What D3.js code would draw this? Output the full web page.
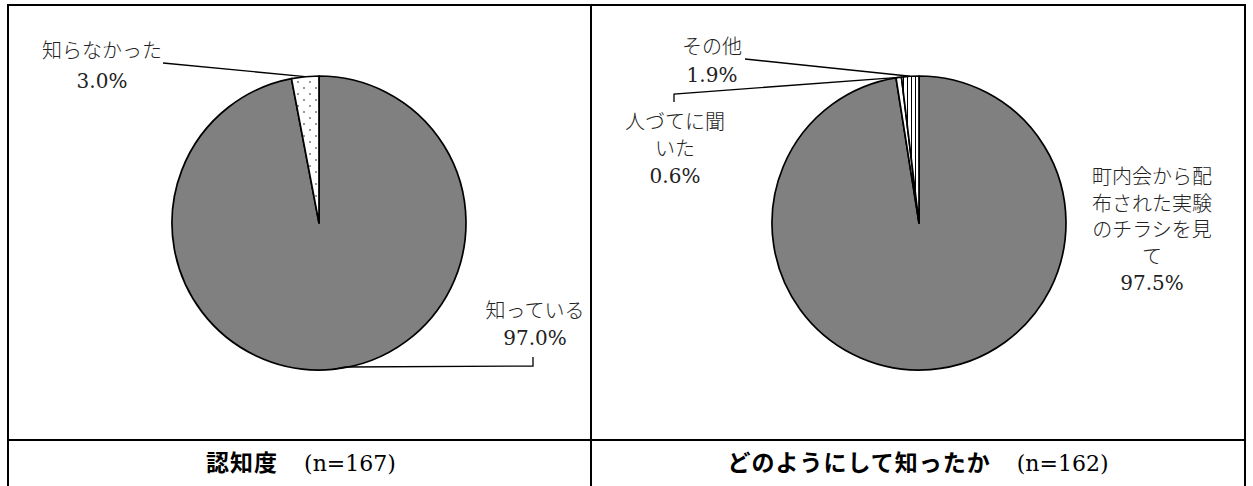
<!DOCTYPE html>
<html><head><meta charset="utf-8">
<script src="https://cdn.jsdelivr.net/npm/d3@7"></script>
<style>body{margin:0;background:#fff}svg{display:block}</style>
</head><body>
<script>
// ---- data ----
const leftLabels = ["知っている", "知らなかった"];
const leftValues = [97.0, 3.0];
const leftTitle = "認知度";
const leftN = "(n=167)";

const rightLabels = ["町内会から配布された実験のチラシを見て", "人づてに聞いた", "その他"];
const rightValues = [97.5, 0.6, 1.9];
const rightTitle = "どのようにして知ったか";
const rightN = "(n=162)";

// ---- layout ----
const W = 1253, H = 486;
const svg = d3.select("body").append("svg").attr("width", W).attr("height", H);
const defs = svg.append("defs");

const dots = defs.append("pattern").attr("id","dots").attr("patternUnits","userSpaceOnUse")
  .attr("width",12).attr("height",12);
dots.append("rect").attr("width",12).attr("height",12).attr("fill","#fff");
dots.append("circle").attr("cx",3).attr("cy",3).attr("r",1).attr("fill","#777");
dots.append("circle").attr("cx",9).attr("cy",9).attr("r",1).attr("fill","#777");

const stripes = defs.append("pattern").attr("id","stripes").attr("patternUnits","userSpaceOnUse")
  .attr("width",4).attr("height",4);
stripes.append("rect").attr("width",4).attr("height",4).attr("fill","#fff");
stripes.append("rect").attr("x",0).attr("width",1).attr("height",4).attr("fill","#000");

// frame
const frame = svg.append("g").attr("stroke","#000").attr("stroke-width",2).attr("fill","none");
frame.append("line").attr("x1",8).attr("x2",1245).attr("y1",5).attr("y2",5);
frame.append("line").attr("x1",8).attr("x2",1245).attr("y1",440).attr("y2",440);
[8,591,1245].forEach(x => frame.append("line").attr("x1",x).attr("x2",x).attr("y1",4).attr("y2",H));

const FONT = "'DejaVu Serif','Noto Sans CJK JP',serif";
const R = 147;
const pie = d3.pie().sort(null).startAngle(0).endAngle(2*Math.PI);
const arc = d3.arc().innerRadius(0).outerRadius(R);

function drawPie(cx, cy, values, fills, labelSpecs) {
  const g = svg.append("g").attr("transform", `translate(${cx},${cy})`);
  const arcs = pie(values);
  g.selectAll("path").data(arcs).join("path")
    .attr("d", arc).attr("fill", (d,i) => fills[i])
    .attr("stroke","#000").attr("stroke-width",1.7).attr("stroke-linejoin","round");
  arcs.forEach((a,i) => {
    const s = labelSpecs[i];
    const mid = (a.startAngle + a.endAngle)/2;
    const px = R*Math.sin(mid), py = -R*Math.cos(mid);
    const pts = s.leader.map(p => [p[0]-cx, p[1]-cy]).concat([[px,py]]);
    g.append("path").attr("d", d3.line()(pts)).attr("fill","none")
      .attr("stroke","#000").attr("stroke-width",1.3);
    const t = svg.append("text").attr("text-anchor","middle")
      .attr("font-family",FONT).attr("font-weight",300).attr("font-size",20).attr("fill","#222");
    s.lines.forEach((ln,k) => {
      t.append("tspan").attr("x", s.x).attr("y", s.y + k*s.dy).text(ln);
    });
  });
}

const pct = v => v.toFixed(1) + "%";

drawPie(319, 223, leftValues, ["#808080","url(#dots)"], [
  {x:535, y:318, dy:27, lines:[leftLabels[0], pct(leftValues[0])], leader:[[533,357],[533,366],[345,367]]},
  {x:102, y:58, dy:30, lines:[leftLabels[1], pct(leftValues[1])], leader:[[163,63]]}
]);

drawPie(919, 223, rightValues, ["#808080","#fff","url(#stripes)"], [
  {x:1152, y:184, dy:26.5, lines:["町内会から配","布された実験","のチラシを見","て", pct(rightValues[0])], leader:[]},
  {x:675, y:129, dy:27, lines:["人づてに聞","いた", pct(rightValues[1])], leader:[[674,102],[674,94]]},
  {x:712, y:54, dy:28, lines:[rightLabels[2], pct(rightValues[2])], leader:[[745,59]]}
]);

// captions
function caption(cx, title, n) {
  const t = svg.append("text").attr("x",cx).attr("y",471).attr("text-anchor","middle").attr("fill","#000");
  t.append("tspan").attr("font-family","'Noto Sans CJK JP',sans-serif").attr("font-weight","bold")
    .attr("font-size",23).attr("letter-spacing",1).text(title);
  t.append("tspan").attr("font-family","'DejaVu Serif',serif").attr("font-size",22).attr("dx",26).text(n);
}
caption(301, leftTitle, leftN);
caption(918, rightTitle, rightN);
</script>
</body></html>
